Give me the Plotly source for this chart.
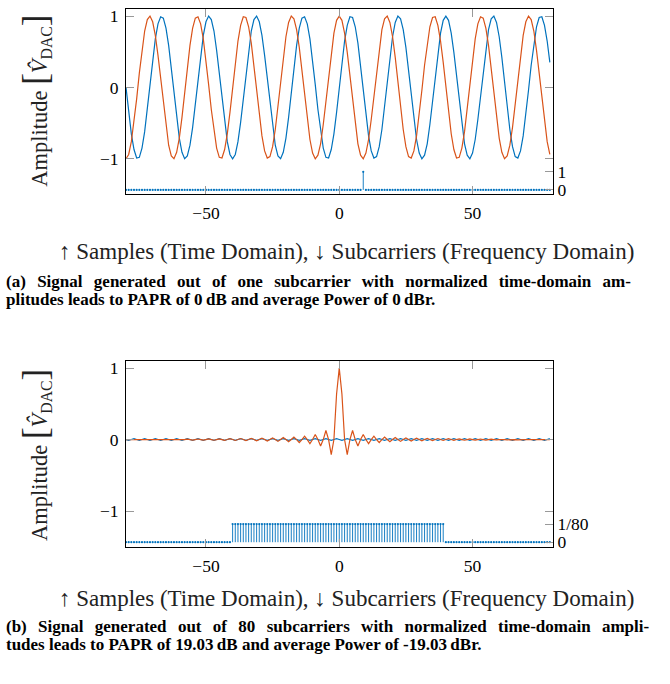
import plotly.graph_objects as go

# ---------------- data ----------------
samples = list(range(-80, 80))          # sample / subcarrier index

# (a) one subcarrier: real (orange) and imaginary (blue) parts
top_real = [
    -1.00, -0.94, -0.76, -0.49, -0.16, 0.20, 0.52, 0.79, 0.95, 1.00,
    0.92, 0.73, 0.45, 0.12, -0.23, -0.56, -0.81, -0.96, -1.00, -0.91,
    -0.71, -0.42, -0.08, 0.27, 0.59, 0.83, 0.97, 0.99, 0.89, 0.68,
    0.38, 0.04, -0.31, -0.62, -0.85, -0.98, -0.99, -0.87, -0.65, -0.35,
    0.00, 0.35, 0.65, 0.87, 0.99, 0.98, 0.85, 0.62, 0.31, -0.04,
    -0.38, -0.68, -0.89, -0.99, -0.97, -0.83, -0.59, -0.27, 0.08, 0.42,
    0.71, 0.91, 1.00, 0.96, 0.81, 0.56, 0.23, -0.12, -0.45, -0.73,
    -0.92, -1.00, -0.95, -0.79, -0.52, -0.20, 0.16, 0.49, 0.76, 0.94,
    1.00, 0.94, 0.76, 0.49, 0.16, -0.20, -0.52, -0.79, -0.95, -1.00,
    -0.92, -0.73, -0.45, -0.12, 0.23, 0.56, 0.81, 0.96, 1.00, 0.91,
    0.71, 0.42, 0.08, -0.27, -0.59, -0.83, -0.97, -0.99, -0.89, -0.68,
    -0.38, -0.04, 0.31, 0.62, 0.85, 0.98, 0.99, 0.87, 0.65, 0.35,
    0.00, -0.35, -0.65, -0.87, -0.99, -0.98, -0.85, -0.62, -0.31, 0.04,
    0.38, 0.68, 0.89, 0.99, 0.97, 0.83, 0.59, 0.27, -0.08, -0.42,
    -0.71, -0.91, -1.00, -0.96, -0.81, -0.56, -0.23, 0.12, 0.45, 0.73,
    0.92, 1.00, 0.95, 0.79, 0.52, 0.20, -0.16, -0.49, -0.76, -0.94,
]
top_imag = [
    0.00, -0.35, -0.65, -0.87, -0.99, -0.98, -0.85, -0.62, -0.31, 0.04,
    0.38, 0.68, 0.89, 0.99, 0.97, 0.83, 0.59, 0.27, -0.08, -0.42,
    -0.71, -0.91, -1.00, -0.96, -0.81, -0.56, -0.23, 0.12, 0.45, 0.73,
    0.92, 1.00, 0.95, 0.79, 0.52, 0.20, -0.16, -0.49, -0.76, -0.94,
    -1.00, -0.94, -0.76, -0.49, -0.16, 0.20, 0.52, 0.79, 0.95, 1.00,
    0.92, 0.73, 0.45, 0.12, -0.23, -0.56, -0.81, -0.96, -1.00, -0.91,
    -0.71, -0.42, -0.08, 0.27, 0.59, 0.83, 0.97, 0.99, 0.89, 0.68,
    0.38, 0.04, -0.31, -0.62, -0.85, -0.98, -0.99, -0.87, -0.65, -0.35,
    0.00, 0.35, 0.65, 0.87, 0.99, 0.98, 0.85, 0.62, 0.31, -0.04,
    -0.38, -0.68, -0.89, -0.99, -0.97, -0.83, -0.59, -0.27, 0.08, 0.42,
    0.71, 0.91, 1.00, 0.96, 0.81, 0.56, 0.23, -0.12, -0.45, -0.73,
    -0.92, -1.00, -0.95, -0.79, -0.52, -0.20, 0.16, 0.49, 0.76, 0.94,
    1.00, 0.94, 0.76, 0.49, 0.16, -0.20, -0.52, -0.79, -0.95, -1.00,
    -0.92, -0.73, -0.45, -0.12, 0.23, 0.56, 0.81, 0.96, 1.00, 0.91,
    0.71, 0.42, 0.08, -0.27, -0.59, -0.83, -0.97, -0.99, -0.89, -0.68,
    -0.38, -0.04, 0.31, 0.62, 0.85, 0.98, 0.99, 0.87, 0.65, 0.35,
]
top_spectrum = [
    0, 0, 0, 0, 0, 0, 0, 0, 0, 0,
    0, 0, 0, 0, 0, 0, 0, 0, 0, 0,
    0, 0, 0, 0, 0, 0, 0, 0, 0, 0,
    0, 0, 0, 0, 0, 0, 0, 0, 0, 0,
    0, 0, 0, 0, 0, 0, 0, 0, 0, 0,
    0, 0, 0, 0, 0, 0, 0, 0, 0, 0,
    0, 0, 0, 0, 0, 0, 0, 0, 0, 0,
    0, 0, 0, 0, 0, 0, 0, 0, 0, 0,
    0, 0, 0, 0, 0, 0, 0, 0, 0, 1,
    0, 0, 0, 0, 0, 0, 0, 0, 0, 0,
    0, 0, 0, 0, 0, 0, 0, 0, 0, 0,
    0, 0, 0, 0, 0, 0, 0, 0, 0, 0,
    0, 0, 0, 0, 0, 0, 0, 0, 0, 0,
    0, 0, 0, 0, 0, 0, 0, 0, 0, 0,
    0, 0, 0, 0, 0, 0, 0, 0, 0, 0,
    0, 0, 0, 0, 0, 0, 0, 0, 0, 0,
]

# (b) 80 subcarriers: real (orange) and imaginary (blue) parts
bottom_real = [
    0, -0.0002, 0, 0.0007, 0, -0.0012, 0, 0.0017, 0, -0.0022,
    0, 0.0027, 0, -0.0033, 0, 0.0038, 0, -0.0043, 0, 0.0049,
    0, -0.0055, 0, 0.0061, 0, -0.0067, 0, 0.0073, 0, -0.0080,
    0, 0.0087, 0, -0.0095, 0, 0.0103, 0, -0.0111, 0, 0.0120,
    0, -0.0130, 0, 0.0141, 0, -0.0152, 0, 0.0165, 0, -0.0179,
    0, 0.0195, 0, -0.0213, 0, 0.0234, 0, -0.0258, 0, 0.0286,
    0, -0.0319, 0, 0.0360, 0, -0.0412, 0, 0.0479, 0, -0.0570,
    0, 0.0700, 0, -0.0904, 0, 0.1269, 0, -0.2120, 0, 0.6365,
    1.0, 0.6365, 0, -0.2120, 0, 0.1269, 0, -0.0904, 0, 0.0700,
    0, -0.0570, 0, 0.0479, 0, -0.0412, 0, 0.0360, 0, -0.0319,
    0, 0.0286, 0, -0.0258, 0, 0.0234, 0, -0.0213, 0, 0.0195,
    0, -0.0179, 0, 0.0165, 0, -0.0152, 0, 0.0141, 0, -0.0130,
    0, 0.0120, 0, -0.0111, 0, 0.0103, 0, -0.0095, 0, 0.0087,
    0, -0.0080, 0, 0.0073, 0, -0.0067, 0, 0.0061, 0, -0.0055,
    0, 0.0049, 0, -0.0043, 0, 0.0038, 0, -0.0033, 0, 0.0027,
    0, -0.0022, 0, 0.0017, 0, -0.0012, 0, 0.0007, 0, -0.0002,
]
bottom_imag = [
    0, -0.0125, 0, 0.0125, 0, -0.0125, 0, 0.0125, 0, -0.0125,
    0, 0.0125, 0, -0.0125, 0, 0.0125, 0, -0.0125, 0, 0.0125,
    0, -0.0125, 0, 0.0125, 0, -0.0125, 0, 0.0125, 0, -0.0125,
    0, 0.0125, 0, -0.0125, 0, 0.0125, 0, -0.0125, 0, 0.0125,
    0, -0.0125, 0, 0.0125, 0, -0.0125, 0, 0.0125, 0, -0.0125,
    0, 0.0125, 0, -0.0125, 0, 0.0125, 0, -0.0125, 0, 0.0125,
    0, -0.0125, 0, 0.0125, 0, -0.0125, 0, 0.0125, 0, -0.0125,
    0, 0.0125, 0, -0.0125, 0, 0.0125, 0, -0.0125, 0, 0.0125,
    0, -0.0125, 0, 0.0125, 0, -0.0125, 0, 0.0125, 0, -0.0125,
    0, 0.0125, 0, -0.0125, 0, 0.0125, 0, -0.0125, 0, 0.0125,
    0, -0.0125, 0, 0.0125, 0, -0.0125, 0, 0.0125, 0, -0.0125,
    0, 0.0125, 0, -0.0125, 0, 0.0125, 0, -0.0125, 0, 0.0125,
    0, -0.0125, 0, 0.0125, 0, -0.0125, 0, 0.0125, 0, -0.0125,
    0, 0.0125, 0, -0.0125, 0, 0.0125, 0, -0.0125, 0, 0.0125,
    0, -0.0125, 0, 0.0125, 0, -0.0125, 0, 0.0125, 0, -0.0125,
    0, 0.0125, 0, -0.0125, 0, 0.0125, 0, -0.0125, 0, 0.0125,
]
bottom_spectrum = [
    0, 0, 0, 0, 0, 0, 0, 0, 0, 0,
    0, 0, 0, 0, 0, 0, 0, 0, 0, 0,
    0, 0, 0, 0, 0, 0, 0, 0, 0, 0,
    0, 0, 0, 0, 0, 0, 0, 0, 0, 0,
    0.0125, 0.0125, 0.0125, 0.0125, 0.0125, 0.0125, 0.0125, 0.0125, 0.0125, 0.0125,
    0.0125, 0.0125, 0.0125, 0.0125, 0.0125, 0.0125, 0.0125, 0.0125, 0.0125, 0.0125,
    0.0125, 0.0125, 0.0125, 0.0125, 0.0125, 0.0125, 0.0125, 0.0125, 0.0125, 0.0125,
    0.0125, 0.0125, 0.0125, 0.0125, 0.0125, 0.0125, 0.0125, 0.0125, 0.0125, 0.0125,
    0.0125, 0.0125, 0.0125, 0.0125, 0.0125, 0.0125, 0.0125, 0.0125, 0.0125, 0.0125,
    0.0125, 0.0125, 0.0125, 0.0125, 0.0125, 0.0125, 0.0125, 0.0125, 0.0125, 0.0125,
    0.0125, 0.0125, 0.0125, 0.0125, 0.0125, 0.0125, 0.0125, 0.0125, 0.0125, 0.0125,
    0.0125, 0.0125, 0.0125, 0.0125, 0.0125, 0.0125, 0.0125, 0.0125, 0.0125, 0.0125,
    0, 0, 0, 0, 0, 0, 0, 0, 0, 0,
    0, 0, 0, 0, 0, 0, 0, 0, 0, 0,
    0, 0, 0, 0, 0, 0, 0, 0, 0, 0,
    0, 0, 0, 0, 0, 0, 0, 0, 0, 0,
]

x_title = "↑ Samples (Time Domain), ↓ Subcarriers (Frequency Domain)"
caption_a = ["(a) Signal generated out of one subcarrier with normalized time-domain am-",
             "plitudes leads to PAPR of 0\u2009dB and average Power of 0\u2009dBr."]
caption_b = ["(b) Signal generated out of 80 subcarriers with normalized time-domain ampli-",
             "tudes leads to PAPR of 19.03\u2009dB and average Power of -19.03\u2009dBr."]

# ---------------- style ----------------
W, H = 670, 684
BLUE = "#0072BD"
ORANGE = "#D95319"
FONT = "Liberation Serif"
TICKC = "#999999"

fig = go.Figure()


def add_panel(sfx_x, sfx_y, sfx_y2, real, imag, spec):
    xa = "x" + sfx_x
    ya = "y" + sfx_y
    ya2 = "y" + sfx_y2
    fig.add_trace(go.Scatter(x=samples, y=imag, mode="lines",
                             line=dict(color=BLUE, width=1.2),
                             xaxis=xa, yaxis=ya, showlegend=False))
    fig.add_trace(go.Scatter(x=samples, y=real, mode="lines",
                             line=dict(color=ORANGE, width=1.2),
                             xaxis=xa, yaxis=ya, showlegend=False))
    fig.add_trace(go.Scatter(
        x=samples, y=spec, mode="markers",
        marker=dict(color=BLUE, size=2.2, symbol="circle"),
        error_y=dict(type="data", symmetric=False,
                     array=[0 for _ in spec], arrayminus=spec,
                     width=0, thickness=0.9, color=BLUE),
        xaxis=xa, yaxis=ya2, showlegend=False))


add_panel("", "", "3", top_real, top_imag, top_spectrum)
add_panel("2", "2", "4", bottom_real, bottom_imag, bottom_spectrum)

xl, xr = 126 / W, 552.5 / W
top_dom = [1 - 194 / H, 1 - 6 / H]
bot_dom = [1 - 551 / H, 1 - 362.7 / H]

TF = dict(family=FONT, size=17.5, color="black")
common_x = dict(range=[-80, 80], tickvals=[-50, 0, 50], ticks="inside",
                ticklen=8, tickcolor=TICKC, tickwidth=1,
                showline=True, linecolor="black", linewidth=1, mirror="ticks",
                showgrid=False, zeroline=False, tickfont=TF,
                ticklabelstandoff=3)
common_y = dict(range=[-1.5, 1.1], tickvals=[-1, 0, 1], ticks="inside",
                ticklen=8, tickcolor=TICKC, tickwidth=1,
                showline=True, linecolor="black", linewidth=1, mirror="ticks",
                showgrid=False, zeroline=False, tickfont=TF,
                ticklabelstandoff=3)
sec_y = dict(ticks="inside", ticklen=8, tickcolor=TICKC, tickwidth=1,
             side="right", showline=False, showgrid=False, zeroline=False,
             tickfont=TF, ticklabelstandoff=4)

fig.update_layout(
    width=W, height=H,
    margin=dict(l=0, r=0, t=0, b=0),
    paper_bgcolor="white", plot_bgcolor="white",
    font=dict(family=FONT, color="black"),
    xaxis=dict(domain=[xl, xr], anchor="y", **common_x),
    yaxis=dict(domain=top_dom, anchor="x", **common_y),
    xaxis2=dict(domain=[xl, xr], anchor="y2", **common_x),
    yaxis2=dict(domain=bot_dom, anchor="x2", **common_y),
    yaxis3=dict(overlaying="y", anchor="x", range=[-0.25, 10],
                tickvals=[0, 1], ticktext=["0", "1"], **sec_y),
    yaxis4=dict(overlaying="y2", anchor="x2", range=[-0.25 / 80, 10 / 80],
                tickvals=[0, 1 / 80], ticktext=["0", "1/80"], **sec_y),
)

ytitle = ("Amplitude <span style='font-size:35px'>[</span>"
          "<i>V̂</i><sub>DAC</sub>"
          "<span style='font-size:35px'>]</span>")

JUST = "\u2004\u200A"  # extra space to emulate justified first caption lines


def justify(line):
    return (" " + JUST).join(line.split(" "))


ann = []
for yc in (99, 458):
    ann.append(dict(text=ytitle, textangle=-90, x=36 / W, y=1 - yc / H,
                    xref="paper", yref="paper", xanchor="center",
                    yanchor="middle", showarrow=False,
                    font=dict(family=FONT, size=22.5, color="#222")))
for yc in (252, 603):
    ann.append(dict(text=x_title, x=346.5 / W, y=1 - yc / H, xref="paper",
                    yref="paper", xanchor="center", yanchor="middle",
                    showarrow=False,
                    font=dict(family=FONT, size=23, color="#222")))
for (l1, l2), yc in zip((caption_a, caption_b), (282, 632)):
    ann.append(dict(text="<b>" + justify(l1) + "</b>", x=4 / W, y=1 - yc / H,
                    xref="paper", yref="paper", xanchor="left",
                    yanchor="middle", showarrow=False,
                    font=dict(family=FONT, size=17, color="black")))
    ann.append(dict(text="<b>" + l2 + "</b>", x=4 / W, y=1 - (yc + 18.5) / H,
                    xref="paper", yref="paper", xanchor="left",
                    yanchor="middle", showarrow=False,
                    font=dict(family=FONT, size=17, color="black")))
fig.update_layout(annotations=ann)

fig.write_html("out.html", config={"displayModeBar": False},
               post_script="document.body.style.margin='0px';")
